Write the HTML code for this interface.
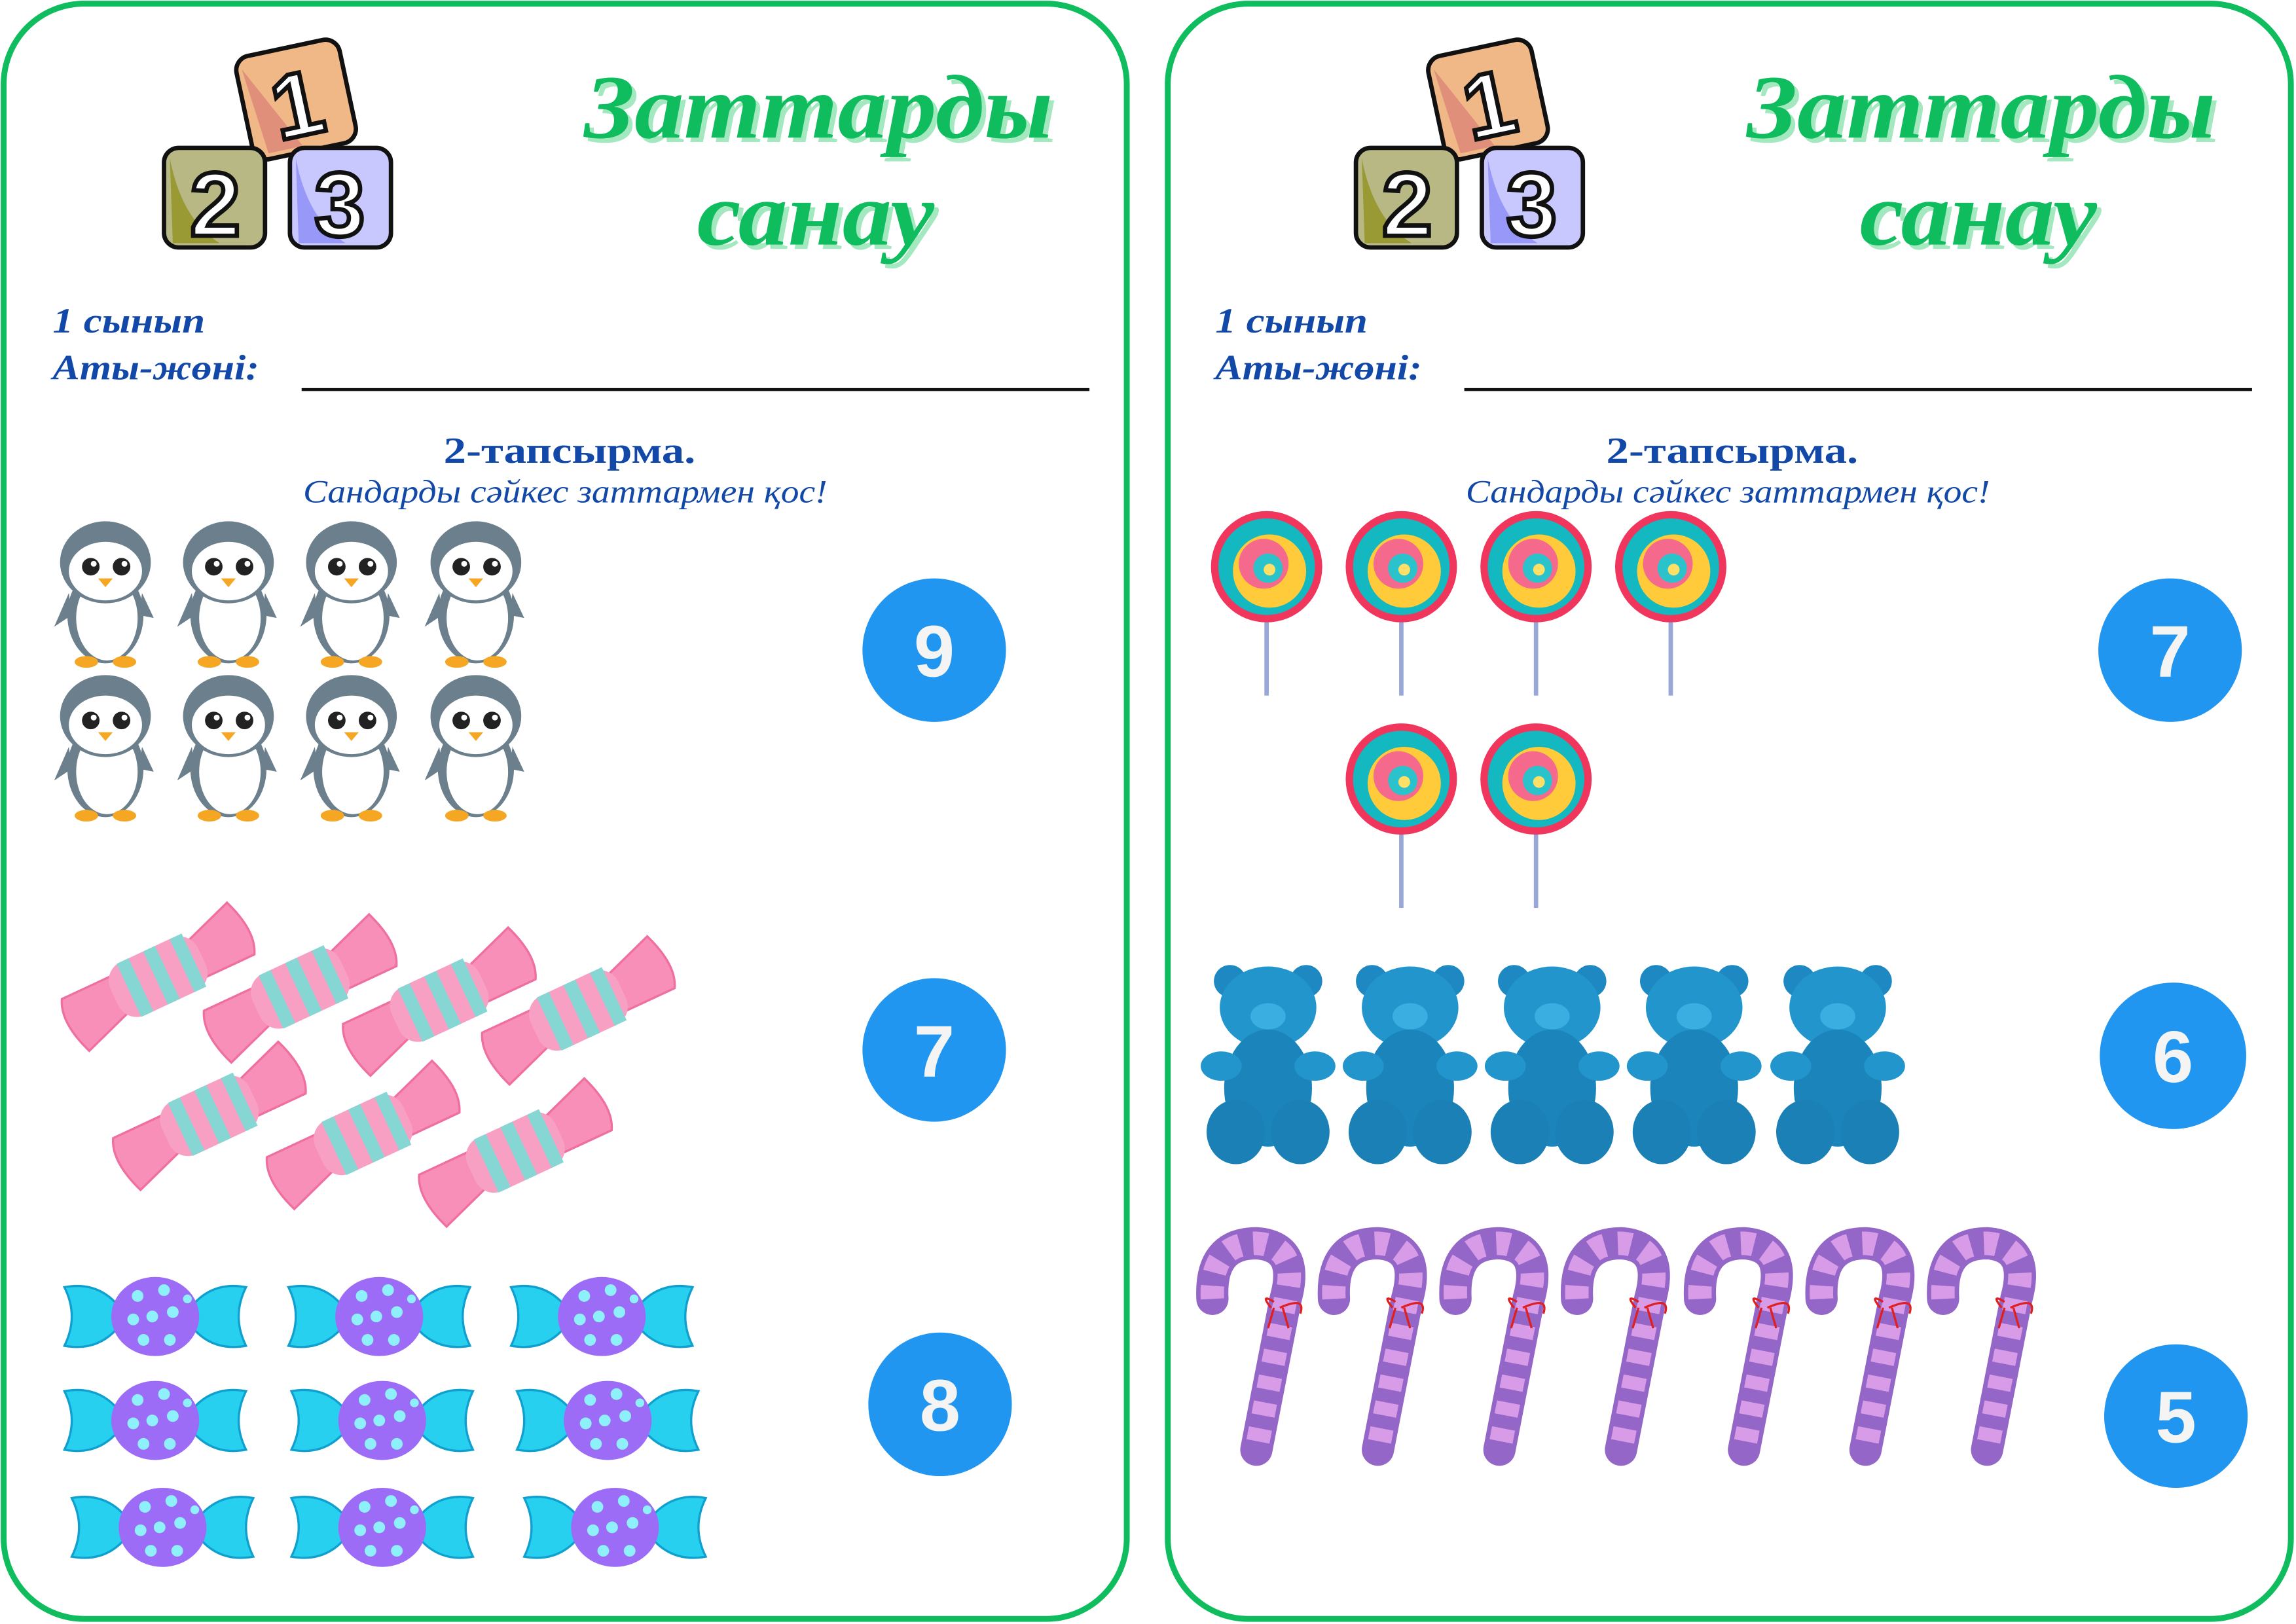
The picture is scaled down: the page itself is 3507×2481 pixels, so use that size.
<!DOCTYPE html>
<html><head><meta charset="utf-8"><style>html,body{margin:0;padding:0;background:#fff}svg{display:block}</style></head>
<body>
<svg width="3507" height="2481" viewBox="0 0 1568 1109" preserveAspectRatio="none" xmlns="http://www.w3.org/2000/svg">
<defs>
<g id="blocks">
 <g transform="rotate(-12 202 67)">
  <rect x="166" y="32" width="72" height="72" rx="10" fill="#f0b887" stroke="#111" stroke-width="3"/>
  <path d="M170 40 L200 100 L176 100 Z" fill="#e08f7a"/>
  <text x="202" y="93" font-family="Liberation Sans,sans-serif" font-weight="bold" font-size="62" text-anchor="middle" fill="#fff" stroke="#111" stroke-width="3">1</text>
 </g>
 <rect x="112" y="101" width="69" height="68" rx="10" fill="#b8b884" stroke="#111" stroke-width="3"/>
 <path d="M116 108 Q124 150 150 166 L118 166 Z" fill="#9a9a35"/>
 <text x="147" y="161" font-family="Liberation Sans,sans-serif" font-weight="bold" font-size="62" text-anchor="middle" fill="#fff" stroke="#111" stroke-width="3">2</text>
 <rect x="198" y="101" width="69" height="68" rx="10" fill="#c8c8ff" stroke="#111" stroke-width="3"/>
 <path d="M202 108 Q210 150 236 166 L204 166 Z" fill="#9898f8"/>
 <text x="232" y="161" font-family="Liberation Sans,sans-serif" font-weight="bold" font-size="62" text-anchor="middle" fill="#fff" stroke="#111" stroke-width="3">3</text>
</g>
<g id="peng">
 <ellipse cx="35" cy="70" rx="26" ry="33" fill="#6b7f8c"/>
 <ellipse cx="36" cy="72" rx="21" ry="29" fill="#fff"/>
 <path d="M10 55 L0 78 L12 70Z M60 55 L68 72 L58 70Z" fill="#6b7f8c"/>
 <ellipse cx="35" cy="34" rx="31" ry="28" fill="#6b7f8c"/>
 <ellipse cx="35" cy="40" rx="25" ry="20" fill="#fff"/>
 <circle cx="25" cy="37" r="6" fill="#222"/><circle cx="46" cy="37" r="6" fill="#222"/>
 <circle cx="27" cy="35" r="2" fill="#fff"/><circle cx="48" cy="35" r="2" fill="#fff"/>
 <path d="M30 45 L40 45 L35 51Z" fill="#f5a623"/>
 <ellipse cx="22" cy="102" rx="8" ry="4" fill="#f5a623"/><ellipse cx="48" cy="102" rx="8" ry="4" fill="#f5a623"/>
</g>
<g id="pink">
 <path d="M-30 -14 L-66 -14 Q-74 0 -64 26 L-30 14Z" fill="#f78fb8" stroke="#ee6fa0" stroke-width="1.5"/>
 <path d="M30 14 L66 14 Q74 0 64 -26 L30 -14Z" fill="#f78fb8" stroke="#ee6fa0" stroke-width="1.5"/>
 <rect x="-33" y="-20" width="66" height="40" rx="14" fill="#f7a0c4"/>
 <rect x="-22" y="-20" width="9" height="40" fill="#86d6d4"/><rect x="-2" y="-20" width="9" height="40" fill="#86d6d4"/><rect x="18" y="-20" width="9" height="40" fill="#86d6d4"/>
</g>
<g id="blue">
 <path d="M-62 -20 Q-35 -25 -20 0 Q-35 25 -62 20 Q-52 0 -62 -20Z" fill="#27d0ee" stroke="#10a0d0" stroke-width="1.5"/>
 <path d="M62 -20 Q35 -25 20 0 Q35 25 62 20 Q52 0 62 -20Z" fill="#27d0ee" stroke="#10a0d0" stroke-width="1.5"/>
 <ellipse cx="0" cy="0" rx="30" ry="27" fill="#9d6cf7"/>
 <g fill="#8ef0fb"><circle cx="-12" cy="-14" r="4"/><circle cx="6" cy="-18" r="4"/><circle cx="-15" cy="2" r="4"/><circle cx="-2" cy="0" r="4"/><circle cx="12" cy="-3" r="4"/><circle cx="-8" cy="16" r="4"/><circle cx="10" cy="16" r="4"/><circle cx="22" cy="-12" r="3"/></g>
</g>
<g id="lolli">
 <line x1="0" y1="30" x2="0" y2="88" stroke="#98a6d8" stroke-width="3"/>
 <circle r="38" fill="#f0365c"/>
 <circle r="33" fill="#14b8c0"/>
 <circle cx="2" cy="3" r="25" fill="#ffcb3a"/>
 <circle cx="-2" cy="-2" r="17" fill="#f56a8c"/>
 <circle cx="1" cy="1" r="10" fill="#2bc3cb"/>
 <circle cx="2" cy="2" r="4" fill="#ffe066"/>
</g>
<g id="bear">
 <circle cx="-26" cy="-58" r="11" fill="#1e88c2"/><circle cx="26" cy="-58" r="11" fill="#1e88c2"/>
 <ellipse cx="0" cy="-40" rx="33" ry="28" fill="#2296cc"/>
 <ellipse cx="0" cy="-34" rx="12" ry="9" fill="#3aaee0"/>
 <ellipse cx="0" cy="15" rx="30" ry="40" fill="#1b85bb"/>
 <ellipse cx="-32" cy="0" rx="14" ry="10" fill="#2296cc"/><ellipse cx="32" cy="0" rx="14" ry="10" fill="#2296cc"/>
 <ellipse cx="-22" cy="45" rx="20" ry="22" fill="#1a80b5"/><ellipse cx="22" cy="45" rx="20" ry="22" fill="#1a80b5"/>
</g>
<g id="cane">
 <path d="M16 42 Q14 4 46 4 Q76 6 66 42 L46 145" fill="none" stroke="#9466c8" stroke-width="22" stroke-linecap="round" stroke-linejoin="round"/>
 <path d="M16 42 Q14 4 46 4 Q76 6 66 42 L46 145" fill="none" stroke="#d79be8" stroke-width="16" stroke-dasharray="9 9" stroke-linecap="butt"/>
 <path d="M56 48 Q48 38 58 44 M62 48 Q80 40 76 52 M58 48 L54 62 M64 48 L68 62" fill="none" stroke="#e02020" stroke-width="1.5"/>
</g>
<g id="head">
<g font-family="Liberation Serif,serif" font-weight="bold" font-style="italic" font-size="62">
<text x="402" y="97" fill="#a4e8c0" textLength="320" lengthAdjust="spacingAndGlyphs">Заттарды</text>
<text x="399" y="94" fill="#0fbd5e" textLength="320" lengthAdjust="spacingAndGlyphs">Заттарды</text>
<text x="479" y="170" fill="#a4e8c0" textLength="162" lengthAdjust="spacingAndGlyphs">санау</text>
<text x="476" y="167" fill="#0fbd5e" textLength="162" lengthAdjust="spacingAndGlyphs">санау</text>
</g>
<g font-family="Liberation Serif,serif" font-weight="bold" font-style="italic" font-size="24" fill="#1248a8">
<text x="36" y="227" textLength="104" lengthAdjust="spacingAndGlyphs">1 сынып</text>
<text x="36" y="259" textLength="141" lengthAdjust="spacingAndGlyphs">Аты-жөні:</text>
</g>
<line x1="206" y1="266" x2="744" y2="266" stroke="#111" stroke-width="2"/>
<text x="303" y="316" font-family="Liberation Serif,serif" font-weight="bold" font-size="25" fill="#1248a8" textLength="172" lengthAdjust="spacingAndGlyphs">2-тапсырма.</text>
<text x="207" y="343" font-family="Liberation Serif,serif" font-style="italic" font-size="22" fill="#1248a8" textLength="358" lengthAdjust="spacingAndGlyphs">Сандарды сәйкес заттармен қос!</text>
</g>
</defs>

<rect x="2.5" y="2.5" width="767" height="1103" rx="55" fill="#fff" stroke="#0fbd5e" stroke-width="4"/>
<rect x="797.5" y="2.5" width="767" height="1103" rx="55" fill="#fff" stroke="#0fbd5e" stroke-width="4"/>

<use href="#blocks"/>
<use href="#blocks" transform="translate(814 0)"/>
<use href="#head"/>
<use href="#head" transform="translate(794 0)"/>

<!-- penguins -->
<use href="#peng" x="37" y="350"/><use href="#peng" x="121" y="350"/><use href="#peng" x="205" y="350"/><use href="#peng" x="290" y="350"/>
<use href="#peng" x="37" y="455"/><use href="#peng" x="121" y="455"/><use href="#peng" x="205" y="455"/><use href="#peng" x="290" y="455"/>

<!-- pink candies -->
<use href="#pink" transform="translate(108 667) rotate(-25)"/>
<use href="#pink" transform="translate(205 675) rotate(-25)"/>
<use href="#pink" transform="translate(300 684) rotate(-25)"/>
<use href="#pink" transform="translate(395 690) rotate(-25)"/>
<use href="#pink" transform="translate(143 762) rotate(-25)"/>
<use href="#pink" transform="translate(248 775) rotate(-25)"/>
<use href="#pink" transform="translate(352 787) rotate(-25)"/>

<!-- blue candies -->
<use href="#blue" x="106" y="899"/><use href="#blue" x="259" y="899"/><use href="#blue" x="411" y="899"/>
<use href="#blue" x="106" y="970"/><use href="#blue" x="261" y="970"/><use href="#blue" x="415" y="970"/>
<use href="#blue" x="111" y="1043"/><use href="#blue" x="261" y="1043"/><use href="#blue" x="420" y="1043"/>

<!-- lollipops -->
<use href="#lolli" x="865" y="387"/><use href="#lolli" x="957" y="387"/><use href="#lolli" x="1049" y="387"/><use href="#lolli" x="1141" y="387"/>
<use href="#lolli" x="957" y="532"/><use href="#lolli" x="1049" y="532"/>

<!-- bears -->
<use href="#bear" x="866" y="728"/><use href="#bear" x="963" y="728"/><use href="#bear" x="1060" y="728"/><use href="#bear" x="1157" y="728"/><use href="#bear" x="1255" y="728"/>

<!-- canes -->
<use href="#cane" x="812" y="845"/><use href="#cane" x="895" y="845"/><use href="#cane" x="978" y="845"/><use href="#cane" x="1061" y="845"/><use href="#cane" x="1145" y="845"/><use href="#cane" x="1228" y="845"/><use href="#cane" x="1311" y="845"/>

<!-- number circles -->
<g font-family="Liberation Sans,sans-serif" font-weight="bold" font-size="50" fill="#f4f4f4" text-anchor="middle">
<circle cx="638" cy="444" r="49" fill="#2196f0"/><text x="638" y="462">9</text>
<circle cx="638" cy="717" r="49" fill="#2196f0"/><text x="638" y="735">7</text>
<circle cx="642" cy="959" r="49" fill="#2196f0"/><text x="642" y="977">8</text>
<circle cx="1482" cy="444" r="49" fill="#2196f0"/><text x="1482" y="462">7</text>
<circle cx="1484" cy="721" r="50" fill="#2196f0"/><text x="1484" y="739">6</text>
<circle cx="1486" cy="967" r="49" fill="#2196f0"/><text x="1486" y="985">5</text>
</g>
</svg>
</body></html>
